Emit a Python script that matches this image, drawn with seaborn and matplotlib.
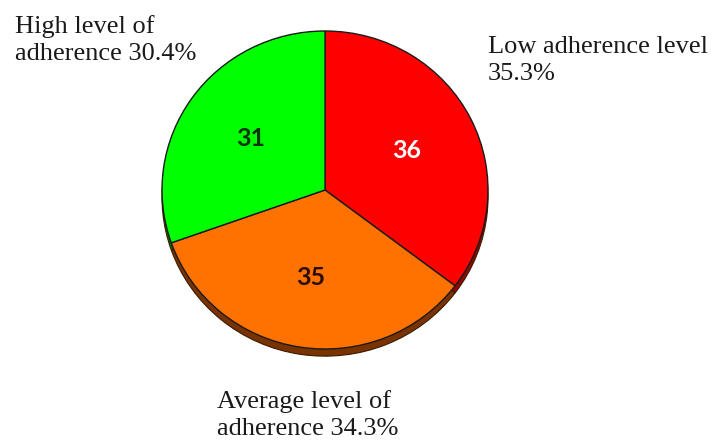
import numpy as np
import matplotlib
matplotlib.use("Agg")
from matplotlib import pyplot as plt
import seaborn as sns

# %% Data
categories = ["Low adherence level", "Average level of\nadherence", "High level of\nadherence"]
counts = [36, 35, 31]
colors = ["#ff0000", "#ff7200", "#00ff00"]
shadow_colors = ["#8a0a00", "#7a3300", "#0a6a00"]
number_colors = ["white", "#2a0d00", "#003300"]

# %% Figure
sns.set_theme(style="white")
W, H = 715, 441
fig = plt.figure(figsize=(W / 100, H / 100), dpi=100)
ax = fig.add_axes([0, 0, 1, 1])

# pie centre at pixel (325, 190), radii 163 x 159 px
cx, cy, rx, ry = 325, 190, 163, 159

# 3D-ish rim: darker pie shifted down
ax.pie(counts, colors=shadow_colors, startangle=90, counterclock=False,
       center=(0, -0.045), radius=1.0,
       wedgeprops=dict(edgecolor="#3a1a00", linewidth=0.8))
wedges, texts, autotexts = ax.pie(
    counts, colors=colors, startangle=90, counterclock=False,
    autopct=lambda p: "%d" % round(p * sum(counts) / 100), pctdistance=0.56,
    wedgeprops=dict(edgecolor="#1a1a1a", linewidth=1.0))

for t, c in zip(autotexts, number_colors):
    t.set_color(c)
    t.set_fontfamily("Lato")
    t.set_fontweight("bold")
    t.set_fontsize(18)

ax.set_aspect("auto")
ax.set_xlim(-cx / rx, (W - cx) / rx)
ax.set_ylim((cy - H) / ry, cy / ry)
ax.axis("off")

# outside labels with percentages
pct = [100 * c / sum(counts) for c in counts]
label_pos = [(488, 36, "left"), (217, 390, "left"), (15, 15, "left")]
for name, p, (x, y, ha) in zip(categories, pct, label_pos):
    if "\n" in name:
        txt = name + " %.1f%%" % p
    else:
        txt = name + "\n%.1f%%" % p
    fig.text(x / W, 1 - y / H, txt, ha=ha, va="top",
             fontfamily="Liberation Serif", fontsize=19, color="#1a1a1a",
             linespacing=1.32)

plt.savefig("out.png", dpi=100)
plt.close()
